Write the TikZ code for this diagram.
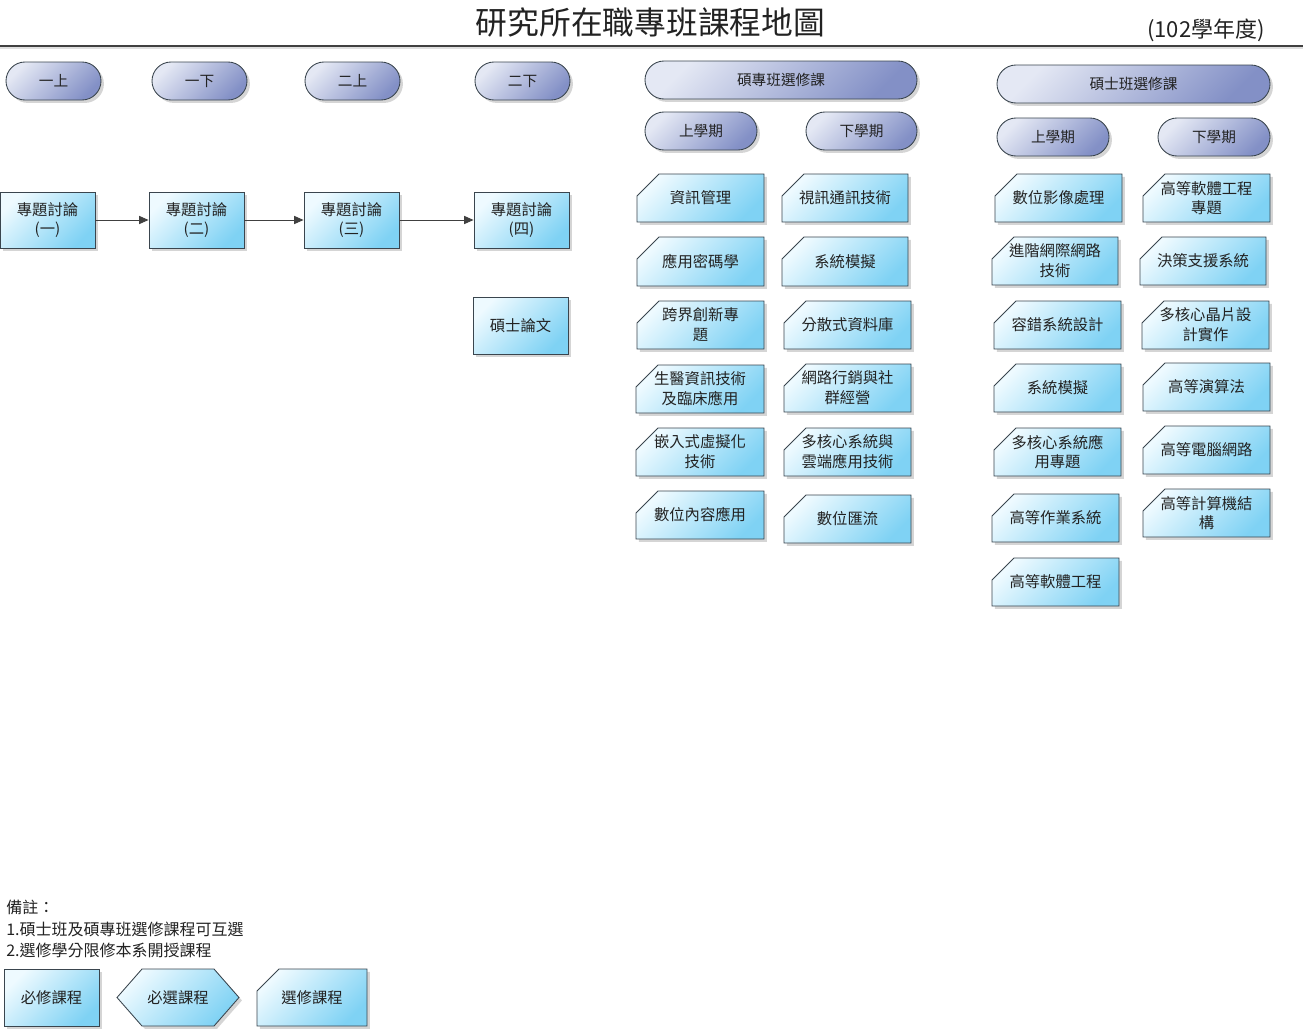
\documentclass[tikz,border=0pt]{standalone}
\usepackage{fontspec}
\setmainfont{Noto Sans CJK TC}
\usetikzlibrary{shapes.misc,shadows,arrows.meta}
\definecolor{boxlight}{HTML}{EEFAFF}
\definecolor{boxdark}{HTML}{7FD2F4}
\definecolor{pilllight}{HTML}{E4E8F4}
\definecolor{pilldark}{HTML}{8390C6}
\definecolor{edge}{HTML}{3A454E}
\definecolor{ink}{HTML}{222222}
\tikzset{
  shad/.style={drop shadow={shadow xshift=2.2pt, shadow yshift=-2.2pt, fill=black!30, opacity=.55}},
  boxfill/.style={draw=edge, line width=0.65pt, top color=boxlight, bottom color=boxdark, shading angle=45, shad},
  pillfill/.style={draw=edge, line width=0.65pt, top color=pilllight, bottom color=pilldark, shading angle=45, shad},
  txt/.style={align=center, font=\fontsize{11.5}{14.8}\selectfont, text=ink, inner sep=0pt},
  notetxt/.style={anchor=west, font=\fontsize{12}{14}\selectfont, text=ink, inner sep=0pt},
  pilltxt/.style={rounded rectangle, pillfill, font=\fontsize{11}{13}\selectfont, text=ink, inner sep=0pt},
  reqbox/.style={rectangle, boxfill, txt},
  arr/.style={draw=black!75, line width=0.7pt, -{Triangle[length=7pt,width=6pt]}},
}
\newcommand\pillN[6]{%
  \node[pilltxt, minimum width={(#4-#2)*0.75pt}, minimum height={(#5-#3)*0.75pt}] (#1) at ({(#2+#4)/2},{(#3+#5)/2}) {#6};}
\newcommand\reqN[6]{%
  \node[reqbox, minimum width={(#4-#2)*0.75pt}, minimum height={(#5-#3)*0.75pt}] (#1) at ({(#2+#4)/2},{(#3+#5)/2}) {#6};}
\newcommand\elecN[6]{%
  \path[boxfill] (#2+22,#3) -- (#4,#3) -- (#4,#5) -- (#2,#5) -- (#2,#3+22) -- cycle;
  \node[txt] (#1) at ({(#2+#4)/2},{(#3+#5)/2}) {#6};}
\begin{document}
\begin{tikzpicture}[x=0.75pt,y=-0.75pt]
\useasboundingbox (0,0) rectangle (1303,1029);
% title
\node[font=\fontsize{23.8}{26}\selectfont, text=ink, inner sep=0pt] (title) at (650.5,22) {研究所在職專班課程地圖};
\node[font=\fontsize{16.5}{18}\selectfont, text=ink, inner sep=0pt] (year) at (1206,30) {(102學年度)};
\draw[black!75, line width=0.8pt] (0,46) -- (1303,46);
\draw[black!12, line width=0.8pt] (0,48) -- (1303,48);
% semester pills
\pillN{p1}{6}{62}{101}{100}{一上}
\pillN{p2}{152}{62}{247}{100}{一下}
\pillN{p3}{305}{62}{400}{100}{二上}
\pillN{p4}{475}{62}{570}{100}{二下}
\pillN{pa}{645}{61}{917}{99}{碩專班選修課}
\pillN{pa1}{645}{112}{757}{150}{上學期}
\pillN{pa2}{806}{112}{917}{150}{下學期}
\pillN{pb}{997}{65}{1270}{103}{碩士班選修課}
\pillN{pb1}{997}{118}{1109}{156}{上學期}
\pillN{pb2}{1158}{118}{1270}{156}{下學期}
% required
\reqN{r1}{0}{192}{95}{248}{專題討論\\(一)}
\reqN{r2}{149}{192}{244}{248}{專題討論\\(二)}
\reqN{r3}{304}{192}{399}{248}{專題討論\\(三)}
\reqN{r4}{474}{192}{569}{248}{專題討論\\(四)}
\reqN{r5}{473}{297}{568}{354}{碩士論文}
\draw[arr] (r1.east) -- (r2.west);
\draw[arr] (r2.east) -- (r3.west);
\draw[arr] (r3.east) -- (r4.west);
% 碩專班 electives
\elecN{a1}{637}{174}{764}{222}{資訊管理}
\elecN{a2}{782}{174}{908}{222}{視訊通訊技術}
\elecN{a3}{637}{237}{764}{286}{應用密碼學}
\elecN{a4}{782}{237}{908}{286}{系統模擬}
\elecN{a5}{637}{301}{764}{349}{跨界創新專\\題}
\elecN{a6}{784}{301}{911}{349}{分散式資料庫}
\elecN{a7}{636}{365}{764}{413}{生醫資訊技術\\及臨床應用}
\elecN{a8}{784}{364}{911}{412}{網路行銷與社\\群經營}
\elecN{a9}{636}{428}{764}{476}{嵌入式虛擬化\\技術}
\elecN{a10}{784}{428}{911}{476}{多核心系統與\\雲端應用技術}
\elecN{a11}{636}{491}{764}{539}{數位內容應用}
\elecN{a12}{784}{495}{911}{543}{數位匯流}
% 碩士班 electives
\elecN{b1}{995}{174}{1122}{222}{數位影像處理}
\elecN{b2}{1143}{174}{1270}{222}{高等軟體工程\\專題}
\elecN{b3}{992}{237}{1118}{285}{進階網際網路\\技術}
\elecN{b4}{1140}{237}{1266}{285}{決策支援系統}
\elecN{b5}{994}{301}{1121}{349}{容錯系統設計}
\elecN{b6}{1142}{301}{1269}{349}{多核心晶片設\\計實作}
\elecN{b7}{994}{364}{1121}{412}{系統模擬}
\elecN{b8}{1143}{363}{1270}{411}{高等演算法}
\elecN{b9}{994}{428}{1121}{476}{多核心系統應\\用專題}
\elecN{b10}{1143}{426}{1270}{474}{高等電腦網路}
\elecN{b11}{992}{494}{1119}{542}{高等作業系統}
\elecN{b12}{1143}{489}{1270}{537}{高等計算機結\\構}
\elecN{b13}{992}{558}{1119}{606}{高等軟體工程}
% notes
\node[notetxt] (n0) at (6,907) {備註：};
\node[notetxt] (n1) at (6,929) {1.碩士班及碩專班選修課程可互選};
\node[notetxt] (n2) at (6,950) {2.選修學分限修本系開授課程};
% legend
\reqN{lg1}{4}{969}{99}{1026}{必修課程}
\path[boxfill] (117,997.5) -- (142,969) -- (214,969) -- (239,997.5) -- (214,1026) -- (142,1026) -- cycle;
\node[txt] (lg2) at (178,997.5) {必選課程};
\elecN{lg3}{257}{969}{367}{1026}{選修課程}
\end{tikzpicture}
\end{document}
